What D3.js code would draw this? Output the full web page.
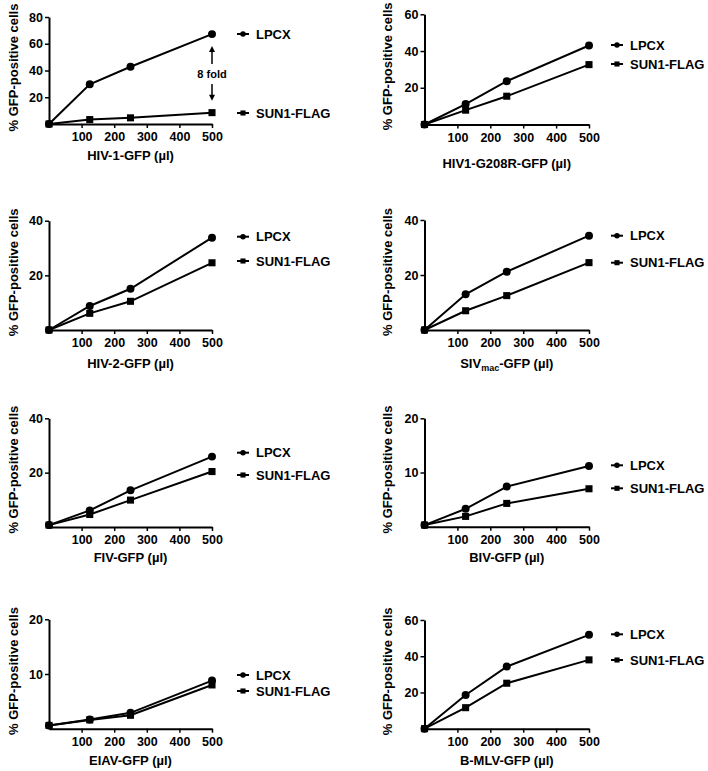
<!DOCTYPE html>
<html>
<head>
<meta charset="utf-8">
<script src="https://cdn.jsdelivr.net/npm/d3@7"></script>
<style>
  html, body { margin: 0; padding: 0; background: #fff; }
  svg { display: block; font-family: "Liberation Sans", Arial, sans-serif; font-weight: bold; }
</style>
</head>
<body>
<svg id="chart" width="708" height="771"></svg>
<script>
// ---------------- data ----------------
const doses = [0, 125, 250, 500];
const xTickValues = [100, 200, 300, 400, 500];
const seriesNames = ["LPCX", "SUN1-FLAG"];
const panelTitles = ["HIV-1-GFP (µl)", "HIV1-G208R-GFP (µl)", "HIV-2-GFP (µl)", "SIV|mac|-GFP (µl)",
                     "FIV-GFP (µl)", "BIV-GFP (µl)", "EIAV-GFP (µl)", "B-MLV-GFP (µl)"];
const yMaxes = [80, 60, 40, 40, 40, 20, 20, 60];
const yTickSteps = [20, 20, 20, 20, 20, 10, 10, 20];
const lpcxValues = [
  [0, 29.7, 42.8, 67.2],
  [0, 11.1, 23.6, 43.0],
  [0, 8.8, 15.1, 33.8],
  [0, 13.0, 21.2, 34.3],
  [0.7, 6.1, 13.5, 25.9],
  [0.3, 3.3, 7.4, 11.2],
  [0.6, 1.7, 2.9, 8.8],
  [0, 18.6, 34.3, 51.8]
];
const sun1Values = [
  [0, 3.3, 4.6, 8.5],
  [0, 7.8, 15.4, 32.6],
  [0, 6.1, 10.5, 24.6],
  [0, 7.0, 12.5, 24.5],
  [0.7, 4.6, 9.9, 20.4],
  [0.3, 1.9, 4.3, 7.0],
  [0.6, 1.6, 2.45, 8.0],
  [0, 11.6, 25.1, 38.0]
];
const foldLabel = "8 fold";

// ---------------- layout ----------------
const colX = [{x0: 49, x1: 212, ylab: 13, leg: 243}, {x0: 424.5, x1: 589, ylab: 387, leg: 617}];
const rows = [
  {yTop: 17,    yBase: 124,   title: 155,   leg: [34, 113]},
  {yTop: 14.3,  yBase: 124.5, title: 163,   leg: [45, 64]},
  {yTop: 220.7, yBase: 330,   title: 362.7, leg: [236.7, 261]},
  {yTop: 220,   yBase: 330,   title: 362.7, leg: [235.7, 262.7]},
  {yTop: 418.3, yBase: 527,   title: 556.7, leg: [452.7, 475]},
  {yTop: 418.3, yBase: 526.7, title: 556.7, leg: [465.3, 488.3]},
  {yTop: 619.3, yBase: 728.7, title: 760,   leg: [675, 691]},
  {yTop: 620,   yBase: 728.7, title: 760,   leg: [634.3, 660]}
];

const svg = d3.select("#chart");
const symCircle = d3.symbol().type(d3.symbolCircle);
const symSquare = d3.symbol().type(d3.symbolSquare);
const FONT = "'Liberation Sans', Arial, sans-serif";

panelTitles.forEach((title, i) => {
  const col = colX[i % 2];
  const r = rows[i];
  const x = d3.scaleLinear().domain([0, 500]).range([col.x0, col.x1]);
  const y = d3.scaleLinear().domain([0, yMaxes[i]]).range([r.yBase, r.yTop]);
  const g = svg.append("g");

  const yTicks = d3.range(yTickSteps[i], yMaxes[i] + 0.001, yTickSteps[i]);

  // axes
  const xAxis = g.append("g").attr("transform", `translate(0,${r.yBase})`)
    .call(d3.axisBottom(x).tickValues(xTickValues).tickSize(4).tickSizeOuter(0).tickPadding(4.5));
  const yAxis = g.append("g").attr("transform", `translate(${col.x0},0)`)
    .call(d3.axisLeft(y).tickValues(yTicks).tickSize(4).tickSizeOuter(0).tickPadding(2));
  [xAxis, yAxis].forEach(a => {
    a.select(".domain").attr("stroke", "#000").attr("stroke-width", 2);
    a.selectAll(".tick line").attr("stroke", "#000").attr("stroke-width", 1.5);
    a.selectAll(".tick text").attr("fill", "#000").style("font-size", "12.5px")
      .style("font-weight", "bold").style("font-family", FONT);
  });

  // y axis label
  g.append("text")
    .attr("transform", `translate(${col.ylab},${(r.yTop + r.yBase) / 2 - 3}) rotate(-90)`)
    .attr("text-anchor", "middle").attr("dominant-baseline", "central")
    .style("font-size", "13px").attr("fill", "#000")
    .text("% GFP-positive cells");

  // x axis title (with optional subscript marked by |..|)
  const t = g.append("text")
    .attr("x", (col.x0 + col.x1) / 2).attr("y", r.title)
    .attr("text-anchor", "middle").attr("dominant-baseline", "central")
    .style("font-size", "13px").attr("fill", "#000");
  title.split("|").forEach((part, k) => {
    const ts = t.append("tspan").text(part);
    if (k === 1) ts.attr("baseline-shift", "sub").style("font-size", "9px");
  });

  // series
  const line = d3.line().x((d, j) => x(doses[j])).y(d => y(d));
  const series = [lpcxValues[i], sun1Values[i]];
  const symbols = [symCircle.size(50), symSquare.size(50)];
  series.forEach((vals, s) => {
    g.append("path").datum(vals).attr("d", line)
      .attr("fill", "none").attr("stroke", "#000").attr("stroke-width", 2);
    g.selectAll(null).data(vals).enter().append("path")
      .attr("d", symbols[s])
      .attr("transform", (d, j) => `translate(${x(doses[j])},${y(d)})`)
      .attr("fill", "#000");
  });

  // legend
  const legSyms = [symCircle.size(24), symSquare.size(26)];
  seriesNames.forEach((name, s) => {
    const ly = r.leg[s];
    g.append("line").attr("x1", col.leg - 6).attr("x2", col.leg + 6)
      .attr("y1", ly).attr("y2", ly).attr("stroke", "#000").attr("stroke-width", 2);
    g.append("path").attr("d", legSyms[s]).attr("transform", `translate(${col.leg},${ly})`).attr("fill", "#000");
    g.append("text").attr("x", col.leg + 13).attr("y", ly)
      .attr("dominant-baseline", "central").style("font-size", "13px").attr("fill", "#000")
      .text(name);
  });

  // fold-change annotation on first panel
  if (i === 0) {
    const ax = x(500);
    const yTopArrow = y(lpcxValues[0][3]) + 12;
    const yBotArrow = y(sun1Values[0][3]) - 12;
    const mid = (yTopArrow + yBotArrow) / 2 + 0.5;
    g.append("line").attr("x1", ax).attr("x2", ax).attr("y1", yTopArrow + 4).attr("y2", mid - 10)
      .attr("stroke", "#000").attr("stroke-width", 1.5);
    g.append("line").attr("x1", ax).attr("x2", ax).attr("y1", mid + 10).attr("y2", yBotArrow - 4)
      .attr("stroke", "#000").attr("stroke-width", 1.5);
    g.append("path").attr("d", `M${ax},${yTopArrow} L${ax - 3},${yTopArrow + 6} L${ax + 3},${yTopArrow + 6} Z`).attr("fill", "#000");
    g.append("path").attr("d", `M${ax},${yBotArrow} L${ax - 3},${yBotArrow - 6} L${ax + 3},${yBotArrow - 6} Z`).attr("fill", "#000");
    g.append("text").attr("x", ax).attr("y", mid).attr("text-anchor", "middle")
      .attr("dominant-baseline", "central").style("font-size", "11px").attr("fill", "#000")
      .text(foldLabel);
  }
});
</script>
</body>
</html>
